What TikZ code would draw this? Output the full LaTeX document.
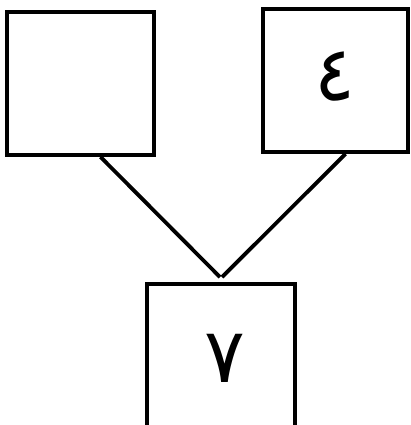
\documentclass[tikz,border=0pt]{standalone}
\usepackage{fontspec}
\newfontfamily\arabicfont[Script=Arabic]{DejaVu Sans}
\TeXXeTstate=1
\begin{document}
\begin{tikzpicture}[x=1pt,y=1pt,
  box/.style={draw=black,line width=3.8pt,inner sep=0pt,fill=white},
  link/.style={draw=black,line width=3.8pt},
  digit/.style={font=\arabicfont\fontsize{76}{76}\selectfont}]
\useasboundingbox (0,0) rectangle (411,-425);
\clip (0,0) rectangle (411,-425);
\node[box,minimum width=147pt,minimum height=143pt] (a) at (80.5,-83.5) {};
\node[box,minimum width=145pt,minimum height=143pt] (b) at (335.5,-80.5) {};
\node[box,minimum width=148pt,minimum height=150pt] (c) at (221,-359) {};
\node[digit,inner sep=0pt] (e) at (225,-358) {\beginR ٧\endR};
\node[digit,inner sep=0pt] (d) at (335,-77) {\beginR ٤\endR};
\draw[link] ([xshift=20pt]a.south) -- ([xshift=-1pt,yshift=5pt]c.north);
\draw[link] ([xshift=10pt]b.south) -- ([xshift=1pt,yshift=5pt]c.north);
\end{tikzpicture}
\end{document}
